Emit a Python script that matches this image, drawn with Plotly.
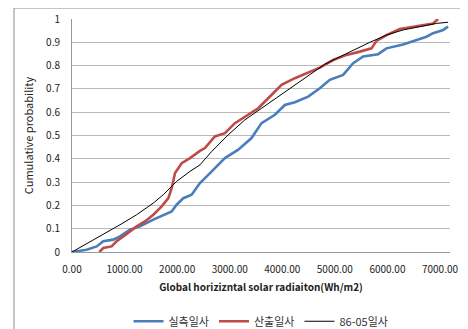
import plotly.graph_objects as go

# 실측일사 (measured)
meas_x = [0, 279, 469, 596, 786, 913, 1103, 1293, 1547, 1737, 1896, 1990, 2118, 2276, 2434,
          2592, 2909, 3162, 3415, 3605, 3859, 4049, 4239, 4492, 4714, 4904, 5158, 5348, 5538,
          5823, 5981, 6298, 6552, 6742, 6868, 7059, 7154]
meas_y = [0, 0.01, 0.024, 0.046, 0.053, 0.067, 0.096, 0.11, 0.139, 0.16, 0.174, 0.203, 0.231, 0.246, 0.296,
          0.331, 0.403, 0.439, 0.489, 0.553, 0.589, 0.631, 0.643, 0.667, 0.703, 0.739, 0.76, 0.81, 0.839,
          0.849, 0.874, 0.891, 0.91, 0.924, 0.939, 0.953, 0.967]

# 산출일사 (calculated)
calc_x = [520, 596, 754, 849, 976, 1103, 1230, 1388, 1547, 1706, 1833, 1896, 1960, 2086, 2244, 2434,
          2528, 2718, 2909, 3099, 3352, 3542, 3732, 3986, 4239, 4492, 4714, 4968, 5222, 5475,
          5697, 5792, 5981, 6235, 6488, 6742, 6868, 6964]
calc_y = [0, 0.017, 0.024, 0.046, 0.067, 0.089, 0.11, 0.131, 0.16, 0.196, 0.231, 0.274, 0.339, 0.381, 0.403, 0.434,
          0.446, 0.496, 0.51, 0.553, 0.589, 0.617, 0.66, 0.717, 0.746, 0.771, 0.791, 0.824, 0.846, 0.86,
          0.874, 0.906, 0.931, 0.957, 0.967, 0.974, 0.981, 1.0]

# 86-05일사 (1986-2005)
hist_x = [0, 596, 913, 1230, 1547, 1737, 1990, 2244, 2434, 2655, 2972, 3288, 3605, 3922, 4239,
          4556, 4809, 5031, 5348, 5665, 5981, 6298, 6615, 6932, 7154]
hist_y = [0, 0.074, 0.117, 0.16, 0.21, 0.246, 0.303, 0.346, 0.374, 0.431, 0.503, 0.567, 0.617, 0.667, 0.714,
          0.767, 0.806, 0.831, 0.867, 0.9, 0.931, 0.953, 0.967, 0.981, 0.986]

x_ticks = [0, 1000, 2000, 3000, 4000, 5000, 6000, 7000]
y_ticks = [0, 0.1, 0.2, 0.3, 0.4, 0.5, 0.6, 0.7, 0.8, 0.9, 1]

fig = go.Figure()
fig.add_trace(go.Scatter(x=meas_x, y=meas_y, mode="lines", name="실측일사",
                         line=dict(color="#4A7EBB", width=2.6)))
fig.add_trace(go.Scatter(x=calc_x, y=calc_y, mode="lines", name="산출일사",
                         line=dict(color="#BE4B48", width=2.6)))
fig.add_trace(go.Scatter(x=hist_x, y=hist_y, mode="lines", name="86-05일사",
                         line=dict(color="#000000", width=1)))

font_family = "Noto Sans CJK KR, Noto Sans, DejaVu Sans, sans-serif"

# page body has an 8px default margin, so the figure is 460x321 and offsets are shifted by 8px
fig.update_layout(
    width=460, height=321,
    margin=dict(l=64, r=18, t=11, b=77, autoexpand=False),
    paper_bgcolor="white", plot_bgcolor="white",
    font=dict(family=font_family, size=10, color="#222"),
    showlegend=True,
    legend=dict(orientation="h", x=0.5, xanchor="center", y=-0.235, yanchor="top",
                font=dict(size=11, color="#333"), itemwidth=30, tracegroupgap=0,
                bgcolor="rgba(0,0,0,0)"),
    xaxis=dict(range=[0, 7190], tickvals=x_ticks, tickformat=".2f", automargin=False,
               showgrid=False, zeroline=False, showline=True, linecolor="#999", linewidth=1,
               ticks="outside", ticklen=8, tickcolor="rgba(0,0,0,0)",
               tickfont=dict(size=10, color="#222"),
               title=dict(text="<b>Global horiziztal solar radiaiton(Wh/m2)</b>",
                          font=dict(size=10, color="#222"), standoff=8)),
    yaxis=dict(range=[0, 1], tickvals=y_ticks, ticktext=[("%g" % v) for v in y_ticks],
               automargin=False,
               showgrid=True, gridcolor="#B8B8B8", gridwidth=1, zeroline=False,
               showline=True, linecolor="#999", linewidth=1,
               ticks="outside", ticklen=9, tickcolor="rgba(0,0,0,0)",
               tickfont=dict(size=10, color="#222"),
               title=dict(text="Cumulative probability", font=dict(size=11, color="#222"), standoff=10)),
)
fig.update_xaxes(title_text="<b>Global horiziz" + "ntal solar radiaiton(Wh/m2)</b>")

# outer chart border
fig.add_shape(type="rect", xref="paper", yref="paper",
              x0=(14 - 72) / 378, x1=(475 - 72) / 378,
              y0=(252 - 335) / 233, y1=(252 - 8) / 233,
              line=dict(color="#8C8C8C", width=1), fillcolor="rgba(0,0,0,0)", layer="below")

fig.write_html("out.html")
